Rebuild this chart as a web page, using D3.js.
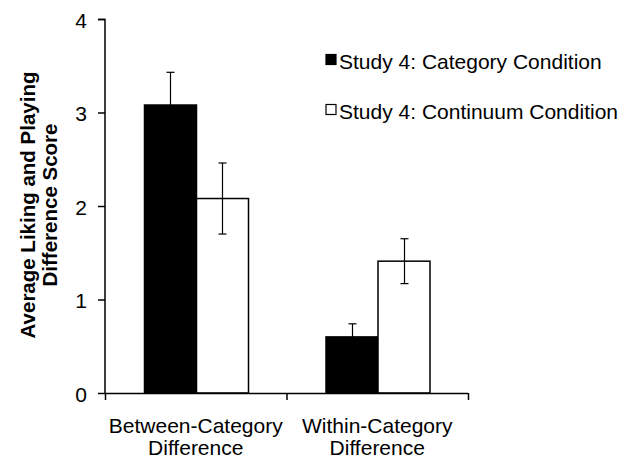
<!DOCTYPE html>
<html><head><meta charset="utf-8">
<script src="https://cdn.jsdelivr.net/npm/d3@7"></script>
<style>body{margin:0;background:#fff}svg{display:block}text{font-family:"Liberation Sans",Arial,sans-serif;fill:#000}</style>
</head><body>
<script>
const categories = [["Between-Category","Difference"],["Within-Category","Difference"]];
const seriesNames = ["Study 4: Category Condition","Study 4: Continuum Condition"];
const seriesFill = ["#000","#fff"];
const categoryVals = [3.08, 0.60];
const categoryErr = [0.35, 0.14];
const continuumVals = [2.08, 1.41];
const continuumErr = [0.38, 0.24];
const yTicks = [0,1,2,3,4];

const W=630,H=460;
const svg=d3.select("body").append("svg").attr("width",W).attr("height",H);
const x0=d3.scaleBand().domain([0,1]).range([105,468]).paddingInner(0).paddingOuter(0);
const x1=d3.scaleBand().domain([0,1]).range([39,143]);
const y=d3.scaleLinear().domain([0,4]).range([393,19]);

// y axis
const ya=svg.append("g").attr("transform","translate(105,0)")
  .call(d3.axisLeft(y).tickValues(yTicks).tickSize(7).tickPadding(11).tickFormat(d3.format("d")));
ya.select(".domain").attr("d","M-7,19.5H0V393.5").attr("stroke-width",1.5);
ya.selectAll(".tick line").attr("stroke-width",1.5);
ya.selectAll("text").style("font-size","21px").attr("font-family","Liberation Sans, Arial, sans-serif").attr("dy","0.4em");

const series=[categoryVals.map((v,i)=>({v,e:categoryErr[i]})), continuumVals.map((v,i)=>({v,e:continuumErr[i]}))];
categories.forEach((c,ci)=>{
  series.forEach((s,si)=>{
    const bx=x0(ci)+x1(si), bw=x1.bandwidth(), d=s[ci];
    svg.append("rect").attr("x",bx+0.5).attr("y",y(d.v)).attr("width",bw).attr("height",y(0)-y(d.v))
      .attr("fill",seriesFill[si]).attr("stroke","#000").attr("stroke-width",1.5);
    const cx=Math.round(bx+bw/2)+0.5;
    const g=svg.append("g").attr("stroke","#000").attr("stroke-width",1.2);
    g.append("line").attr("x1",cx).attr("x2",cx).attr("y1",y(d.v+d.e)).attr("y2",y(d.v-d.e));
    g.append("line").attr("x1",cx-4).attr("x2",cx+4).attr("y1",y(d.v+d.e)).attr("y2",y(d.v+d.e));
    g.append("line").attr("x1",cx-4).attr("x2",cx+4).attr("y1",y(d.v-d.e)).attr("y2",y(d.v-d.e));
  });
});

// x axis
const xa=svg.append("g").attr("stroke","#000").attr("stroke-width",1.5);
xa.append("line").attr("x1",105).attr("x2",468).attr("y1",393.5).attr("y2",393.5);
[0,1,2].forEach(i=>{
  const xx=(i<2?x0(i):x0(1)+x0.bandwidth())+0.5;
  xa.append("line").attr("x1",xx).attr("x2",xx).attr("y1",393).attr("y2",400);
});
categories.forEach((c,ci)=>{
  const t=svg.append("text").attr("text-anchor","middle").style("font-size","21px");
  c.forEach((ln,li)=>t.append("tspan").attr("x",x0(ci)+x0.bandwidth()/2).attr("y",433+li*22).text(ln));
});

// y title
const yt=svg.append("text").attr("transform","translate(35,205) rotate(-90)").attr("text-anchor","middle")
  .style("font-size","20.5px").style("font-weight","bold");
yt.append("tspan").attr("x",0).attr("y",0).text("Average Liking and Playing");
yt.append("tspan").attr("x",0).attr("y",22).text("Difference Score");

// legend
seriesNames.forEach((n,i)=>{
  const ly=68.5+i*50;
  svg.append("rect").attr("x",326).attr("y",ly-14).attr("width",10).attr("height",10)
    .attr("fill",seriesFill[i]).attr("stroke","#000").attr("stroke-width",1.2);
  svg.append("text").attr("x",339).attr("y",ly).style("font-size","21px").text(n);
});
</script>
</body></html>
